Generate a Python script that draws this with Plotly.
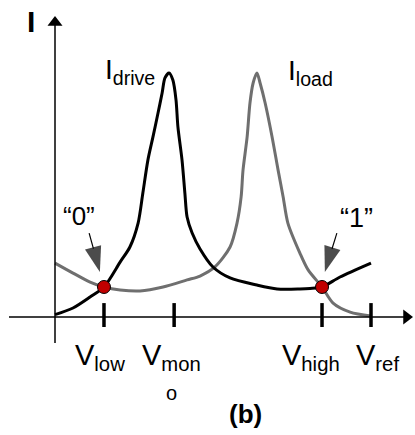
import plotly.graph_objects as go

# Operating-point sketch: drive and load currents vs. node voltage
tick_v = [0.155, 0.377, 0.845, 1.0]
tick_names = ["low", "mon", "high", "ref"]

drive_v = [0.0, 0.057, 0.111, 0.155, 0.206, 0.237, 0.263, 0.278, 0.294, 0.310,
           0.326, 0.339, 0.348, 0.361, 0.373, 0.383, 0.389, 0.402, 0.411, 0.418,
           0.434, 0.459, 0.500, 0.554, 0.639, 0.703, 0.775, 0.807, 0.845, 0.902, 1.0]
drive_i = [0.01, 0.037, 0.082, 0.123, 0.225, 0.287, 0.385, 0.508, 0.643, 0.738,
           0.836, 0.918, 0.980, 1.0, 0.971, 0.889, 0.779, 0.643, 0.508, 0.410,
           0.344, 0.279, 0.205, 0.160, 0.131, 0.115, 0.115, 0.117, 0.123, 0.164, 0.221]

load_v = [0.0, 0.057, 0.111, 0.155, 0.206, 0.269, 0.342, 0.418, 0.459, 0.506,
          0.554, 0.576, 0.589, 0.595, 0.608, 0.617, 0.627, 0.639, 0.649, 0.665,
          0.687, 0.706, 0.722, 0.737, 0.775, 0.801, 0.845, 0.880, 0.934, 1.0]
load_i = [0.221, 0.180, 0.143, 0.123, 0.111, 0.107, 0.123, 0.152, 0.168, 0.205,
          0.287, 0.385, 0.492, 0.602, 0.738, 0.877, 0.959, 1.0, 0.959, 0.877,
          0.738, 0.602, 0.492, 0.385, 0.262, 0.193, 0.123, 0.057, 0.020, 0.004]

# stable states where the two currents cross
state_v = [0.155, 0.845]
state_i = [0.123, 0.123]
state_names = ["\u201c0\u201d", "\u201c1\u201d"]

FONT = "Liberation Sans, Arial, sans-serif"

# axis extents (data units)
V_MIN, V_MAX = -0.17405, 1.13924
I_MIN, I_MAX = -0.48361, 1.29918

fig = go.Figure()

# axis lines
fig.add_shape(type="line", x0=-0.1456, x1=1.105, y0=0, y1=0, line=dict(color="black", width=1.5))
fig.add_shape(type="line", x0=0, x1=0, y0=-0.1066, y1=1.20, line=dict(color="black", width=1.5))
# axis arrowheads
fig.add_trace(go.Scatter(x=[1.1123, 0], y=[0, 1.207], mode="markers",
                         marker=dict(symbol=["triangle-right", "triangle-up"], size=13,
                                     color="black", line=dict(width=0)),
                         hoverinfo="skip"))

# tick marks crossing the voltage axis
for v in tick_v:
    fig.add_shape(type="line", x0=v, x1=v, y0=-0.041, y1=0.057,
                  line=dict(color="black", width=3.5))

fig.add_trace(go.Scatter(x=load_v, y=load_i, mode="lines",
                         line=dict(color="#6f6f6f", width=3, shape="spline", smoothing=0.8),
                         hoverinfo="skip"))
fig.add_trace(go.Scatter(x=drive_v, y=drive_i, mode="lines",
                         line=dict(color="#000000", width=3, shape="spline", smoothing=0.8),
                         hoverinfo="skip"))
fig.add_trace(go.Scatter(x=state_v, y=state_i, mode="markers",
                         marker=dict(size=13, color="#c00000", line=dict(color="#000000", width=1)),
                         hoverinfo="skip"))

# pointers from the state labels to the crossing points
tails = [(0.108, 0.344), (0.892, 0.344)]
tips = [(0.142, 0.184), (0.854, 0.184)]
for (tx, ty), (hx, hy) in zip(tails, tips):
    fig.add_trace(go.Scatter(x=[tx, hx], y=[ty, hy], mode="lines+markers",
                             line=dict(color="black", width=1.2),
                             marker=dict(symbol="arrow", size=[0, 27], angleref="previous",
                                         color="black", line=dict(width=0)),
                             hoverinfo="skip"))

ann = []
# voltage labels
label_x = [0.141, 0.370, 0.810, 1.022]
for lx, name in zip(label_x, tick_names):
    ann.append(dict(x=lx, y=-0.164, xref="x", yref="y", showarrow=False,
                    text="V<sub>" + name + "</sub>", font=dict(family=FONT, size=29, color="black")))
ann.append(dict(x=0.370, y=-0.311, xref="x", yref="y", showarrow=False,
                text="o", font=dict(family=FONT, size=20, color="black")))

# curve names
ann.append(dict(x=0.237, y=1.008, xref="x", yref="y", showarrow=False,
                text="I<sub>drive</sub>", font=dict(family=FONT, size=28, color="black")))
ann.append(dict(x=0.809, y=1.004, xref="x", yref="y", showarrow=False,
                text="I<sub>load</sub>", font=dict(family=FONT, size=28, color="black")))

# axis name and panel tag
ann.append(dict(x=-0.076, y=1.212, xref="x", yref="y", showarrow=False,
                text="<b>I</b>", font=dict(family=FONT, size=30, color="black")))
ann.append(dict(x=0.604, y=-0.398, xref="x", yref="y", showarrow=False,
                text="<b>(b)</b>", font=dict(family=FONT, size=26, color="black")))

# state labels
label_pos = [(0.076, 0.414), (0.953, 0.406)]
label_size = [26, 27]
for (tx, ty), nm, fs in zip(label_pos, state_names, label_size):
    ann.append(dict(x=tx, y=ty, xref="x", yref="y", showarrow=False,
                    text=nm, font=dict(family=FONT, size=fs, color="black")))

fig.update_layout(
    width=415, height=435, autosize=False,
    margin=dict(l=0, r=0, t=0, b=0),
    paper_bgcolor="white", plot_bgcolor="white",
    showlegend=False,
    xaxis=dict(range=[V_MIN, V_MAX], visible=False, fixedrange=True),
    yaxis=dict(range=[I_MIN, I_MAX], visible=False, fixedrange=True),
    annotations=ann,
)

fig.write_html("out.html")
